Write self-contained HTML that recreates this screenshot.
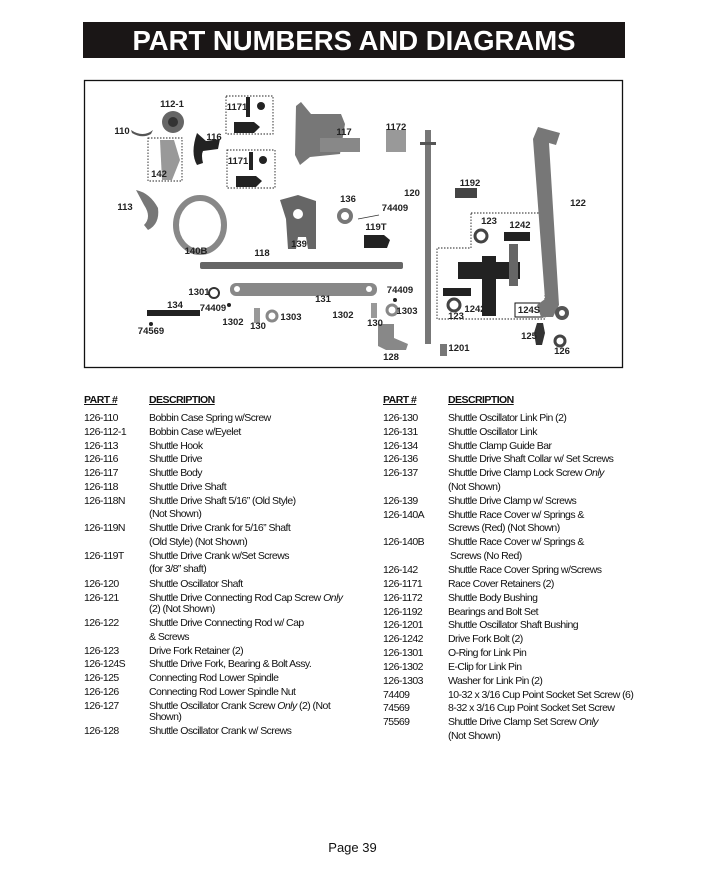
<!DOCTYPE html>
<html><head><meta charset="utf-8"><style>
body{margin:0;width:705px;height:887px;background:#fff;position:relative;overflow:hidden;font-family:"Liberation Sans",sans-serif}
.bar{position:absolute;left:83px;top:22px;width:542px;height:36px;background:#1a1616;color:#fff;font-weight:bold;font-size:27.5px;text-align:center;line-height:37px}
.t{position:absolute;font-size:10.5px;letter-spacing:-0.55px;color:#111;white-space:nowrap;line-height:12px;margin-top:-6px}
.h{font-weight:bold;text-decoration:underline}
.pg{position:absolute;left:0;width:705px;top:840px;text-align:center;font-size:13px;color:#111}
svg{position:absolute;left:0;top:0}
svg text{font-family:"Liberation Sans",sans-serif;font-weight:bold;font-size:9.5px;fill:#222}
</style></head><body>
<div class="bar">PART NUMBERS AND DIAGRAMS</div>
<svg width="705" height="887">
<rect x="84.5" y="80.5" width="538" height="287" fill="none" stroke="#111" stroke-width="1.3"/>
<g fill="none" stroke="#222" stroke-dasharray="1.5,1.5" stroke-width="0.9">
<rect x="148" y="138" width="34" height="43"/>
<rect x="226" y="96" width="47" height="38"/>
<rect x="227" y="150" width="48" height="38"/>
<path d="M471 213H545V319H437V248H471Z"/>
</g>
<rect x="515" y="303" width="28" height="14" fill="none" stroke="#111"/>
<g fill="#555">
<circle cx="173" cy="122" r="11" fill="#666"/><circle cx="173" cy="122" r="5" fill="#333"/>
<path d="M131 130q12 8 22 0l-2 4q-9 5-19-1z"/>
<path d="M160 140h14l6 20-8 20h-10z" fill="#999"/>
<path d="M197 133q-7 20 0 32l6-2q-2-8 0-12l15-2 2-10-14 2z" fill="#222"/>
<path d="M136 190q14 3 22 18 2 16-10 22l-4-5q8-8 0-20z" fill="#777"/>
<rect x="246" y="97" width="4" height="20" fill="#222"/><circle cx="261" cy="106" r="4" fill="#222"/>
<path d="M234 122h20l6 5-6 6h-20z" fill="#222"/>
<rect x="249" y="152" width="4" height="18" fill="#222"/><circle cx="263" cy="160" r="4" fill="#222"/>
<path d="M236 176h20l6 5-6 6h-20z" fill="#222"/>
<path d="M296 106l5-4 10 12 30 0 4 10-5 30-30 3-10 8-5-10z" fill="#777"/>
<rect x="320" y="138" width="40" height="14" fill="#888"/>
<rect x="386" y="130" width="20" height="22" fill="#999"/>
<rect x="425" y="130" width="6" height="214" fill="#777"/><rect x="420" y="142" width="16" height="3" fill="#555"/>
<rect x="455" y="188" width="22" height="10" fill="#444"/>
<path d="M538 127l22 6-4 12-7-2 10 162-6 12-12 0-4-12 8-6-12-160z" fill="#777"/>
<circle cx="562" cy="313" r="7" fill="#555"/><circle cx="562" cy="313" r="3" fill="#fff"/>
<ellipse cx="200" cy="225" rx="24" ry="27" fill="none" stroke="#888" stroke-width="6"/>
<path d="M280 200l18-5 18 6 0 48-8 0-2-12-8 0-2 12-8 0-2-30z" fill="#666"/><circle cx="298" cy="214" r="5" fill="#fff"/>
<circle cx="345" cy="216" r="6" fill="none" stroke="#777" stroke-width="4"/>
<path d="M364 235h20l6 5-3 8-23 0z" fill="#222"/>
<rect x="200" y="262" width="203" height="7" rx="2" fill="#666"/>
<rect x="230" y="283" width="147" height="13" rx="6" fill="#888"/>
<circle cx="237" cy="289" r="3" fill="#fff"/><circle cx="369" cy="289" r="3" fill="#fff"/>
<rect x="147" y="310" width="53" height="6" fill="#222"/>
<circle cx="214" cy="293" r="5" fill="none" stroke="#333" stroke-width="2"/>
<rect x="254" y="308" width="6" height="15" fill="#999"/><circle cx="272" cy="316" r="5" fill="none" stroke="#888" stroke-width="3"/>
<rect x="371" y="303" width="6" height="15" fill="#999"/><circle cx="392" cy="310" r="5" fill="none" stroke="#888" stroke-width="3"/>
<path d="M378 324h16v14l14 6-2 6-20 0-8-4z" fill="#888"/>
<rect x="440" y="344" width="7" height="12" fill="#777"/>
<circle cx="481" cy="236" r="6" fill="none" stroke="#444" stroke-width="3"/>
<rect x="504" y="232" width="26" height="9" fill="#222"/>
<rect x="458" y="262" width="62" height="17" fill="#222"/><rect x="482" y="256" width="14" height="60" fill="#222"/>
<rect x="509" y="244" width="9" height="42" fill="#666"/>
<rect x="443" y="288" width="28" height="8" fill="#222"/>
<circle cx="454" cy="305" r="6" fill="none" stroke="#444" stroke-width="3"/>
<path d="M537 323h6l2 10-3 12h-6l-2-12z" fill="#333"/>
<circle cx="560" cy="341" r="5" fill="none" stroke="#444" stroke-width="3"/>
<circle cx="151" cy="324" r="2" fill="#222"/><circle cx="229" cy="305" r="2" fill="#222"/><circle cx="395" cy="300" r="2" fill="#222"/>
</g>
<line x1="379" y1="215" x2="358" y2="219" stroke="#333" stroke-width="0.7"/>
<text x="172" y="107" text-anchor="middle">112-1</text>
<text x="122" y="134" text-anchor="middle">110</text>
<text x="214" y="140" text-anchor="middle">116</text>
<text x="237" y="110" text-anchor="middle">1171</text>
<text x="238" y="164" text-anchor="middle">1171</text>
<text x="344" y="135" text-anchor="middle">117</text>
<text x="396" y="130" text-anchor="middle">1172</text>
<text x="159" y="177" text-anchor="middle">142</text>
<text x="125" y="210" text-anchor="middle">113</text>
<text x="348" y="202" text-anchor="middle">136</text>
<text x="395" y="211" text-anchor="middle">74409</text>
<text x="376" y="230" text-anchor="middle">119T</text>
<text x="412" y="196" text-anchor="middle">120</text>
<text x="470" y="186" text-anchor="middle">1192</text>
<text x="578" y="206" text-anchor="middle">122</text>
<text x="489" y="224" text-anchor="middle">123</text>
<text x="520" y="228" text-anchor="middle">1242</text>
<text x="196" y="254" text-anchor="middle">140B</text>
<text x="299" y="247" text-anchor="middle">139</text>
<text x="262" y="256" text-anchor="middle">118</text>
<text x="199" y="295" text-anchor="middle">1301</text>
<text x="323" y="302" text-anchor="middle">131</text>
<text x="400" y="293" text-anchor="middle">74409</text>
<text x="175" y="308" text-anchor="middle">134</text>
<text x="213" y="311" text-anchor="middle">74409</text>
<text x="233" y="325" text-anchor="middle">1302</text>
<text x="258" y="329" text-anchor="middle">130</text>
<text x="291" y="320" text-anchor="middle">1303</text>
<text x="343" y="318" text-anchor="middle">1302</text>
<text x="375" y="326" text-anchor="middle">130</text>
<text x="407" y="314" text-anchor="middle">1303</text>
<text x="475" y="312" text-anchor="middle">1242</text>
<text x="456" y="319" text-anchor="middle">123</text>
<text x="529" y="313" text-anchor="middle">124S</text>
<text x="529" y="339" text-anchor="middle">125</text>
<text x="562" y="354" text-anchor="middle">126</text>
<text x="459" y="351" text-anchor="middle">1201</text>
<text x="391" y="360" text-anchor="middle">128</text>
<text x="151" y="334" text-anchor="middle">74569</text>
</svg>

<div class="t h" style="left:84px;top:400px">PART #</div><div class="t h" style="left:149px;top:400px">DESCRIPTION</div>
<div class="t" style="left:84px;top:418px">126-110</div><div class="t" style="left:149px;top:418px">Bobbin Case Spring w/Screw</div>
<div class="t" style="left:84px;top:432px">126-112-1</div><div class="t" style="left:149px;top:432px">Bobbin Case w/Eyelet</div>
<div class="t" style="left:84px;top:446px">126-113</div><div class="t" style="left:149px;top:446px">Shuttle Hook</div>
<div class="t" style="left:84px;top:459px">126-116</div><div class="t" style="left:149px;top:459px">Shuttle Drive</div>
<div class="t" style="left:84px;top:473px">126-117</div><div class="t" style="left:149px;top:473px">Shuttle Body</div>
<div class="t" style="left:84px;top:487px">126-118</div><div class="t" style="left:149px;top:487px">Shuttle Drive Shaft</div>
<div class="t" style="left:84px;top:501px">126-118N</div><div class="t" style="left:149px;top:501px">Shuttle Drive Shaft 5/16” (Old Style)</div>
<div class="t" style="left:149px;top:514px">(Not Shown)</div>
<div class="t" style="left:84px;top:528px">126-119N</div><div class="t" style="left:149px;top:528px">Shuttle Drive Crank for 5/16” Shaft</div>
<div class="t" style="left:149px;top:542px">(Old Style) (Not Shown)</div>
<div class="t" style="left:84px;top:556px">126-119T</div><div class="t" style="left:149px;top:556px">Shuttle Drive Crank w/Set Screws</div>
<div class="t" style="left:149px;top:569px">(for 3/8” shaft)</div>
<div class="t" style="left:84px;top:584px">126-120</div><div class="t" style="left:149px;top:584px">Shuttle Oscillator Shaft</div>
<div class="t" style="left:84px;top:598px">126-121</div><div class="t" style="left:149px;top:598px">Shuttle Drive Connecting Rod Cap Screw <i>Only</i></div>
<div class="t" style="left:149px;top:609px">(2) (Not Shown)</div>
<div class="t" style="left:84px;top:623px">126-122</div><div class="t" style="left:149px;top:623px">Shuttle Drive Connecting Rod w/ Cap</div>
<div class="t" style="left:149px;top:637px">&amp; Screws</div>
<div class="t" style="left:84px;top:651px">126-123</div><div class="t" style="left:149px;top:651px">Drive Fork Retainer (2)</div>
<div class="t" style="left:84px;top:664px">126-124S</div><div class="t" style="left:149px;top:664px">Shuttle Drive Fork, Bearing &amp; Bolt Assy.</div>
<div class="t" style="left:84px;top:678px">126-125</div><div class="t" style="left:149px;top:678px">Connecting Rod Lower Spindle</div>
<div class="t" style="left:84px;top:692px">126-126</div><div class="t" style="left:149px;top:692px">Connecting Rod Lower Spindle Nut</div>
<div class="t" style="left:84px;top:706px">126-127</div><div class="t" style="left:149px;top:706px">Shuttle Oscillator Crank Screw <i>Only</i> (2) (Not</div>
<div class="t" style="left:149px;top:717px">Shown)</div>
<div class="t" style="left:84px;top:731px">126-128</div><div class="t" style="left:149px;top:731px">Shuttle Oscillator Crank w/ Screws</div>

<div class="t h" style="left:383px;top:400px">PART #</div><div class="t h" style="left:448px;top:400px">DESCRIPTION</div>
<div class="t" style="left:383px;top:418px">126-130</div><div class="t" style="left:448px;top:418px">Shuttle Oscillator Link Pin (2)</div>
<div class="t" style="left:383px;top:432px">126-131</div><div class="t" style="left:448px;top:432px">Shuttle Oscillator Link</div>
<div class="t" style="left:383px;top:446px">126-134</div><div class="t" style="left:448px;top:446px">Shuttle Clamp Guide Bar</div>
<div class="t" style="left:383px;top:459px">126-136</div><div class="t" style="left:448px;top:459px">Shuttle Drive Shaft Collar w/ Set Screws</div>
<div class="t" style="left:383px;top:473px">126-137</div><div class="t" style="left:448px;top:473px">Shuttle Drive Clamp Lock Screw <i>Only</i></div>
<div class="t" style="left:448px;top:487px">(Not Shown)</div>
<div class="t" style="left:383px;top:501px">126-139</div><div class="t" style="left:448px;top:501px">Shuttle Drive Clamp w/ Screws</div>
<div class="t" style="left:383px;top:515px">126-140A</div><div class="t" style="left:448px;top:515px">Shuttle Race Cover w/ Springs &amp;</div>
<div class="t" style="left:448px;top:528px">Screws (Red) (Not Shown)</div>
<div class="t" style="left:383px;top:542px">126-140B</div><div class="t" style="left:448px;top:542px">Shuttle Race Cover w/ Springs &amp;</div>
<div class="t" style="left:450px;top:556px">Screws (No Red)</div>
<div class="t" style="left:383px;top:570px">126-142</div><div class="t" style="left:448px;top:570px">Shuttle Race Cover Spring w/Screws</div>
<div class="t" style="left:383px;top:584px">126-1171</div><div class="t" style="left:448px;top:584px">Race Cover Retainers (2)</div>
<div class="t" style="left:383px;top:598px">126-1172</div><div class="t" style="left:448px;top:598px">Shuttle Body Bushing</div>
<div class="t" style="left:383px;top:612px">126-1192</div><div class="t" style="left:448px;top:612px">Bearings and Bolt Set</div>
<div class="t" style="left:383px;top:625px">126-1201</div><div class="t" style="left:448px;top:625px">Shuttle Oscillator Shaft Bushing</div>
<div class="t" style="left:383px;top:639px">126-1242</div><div class="t" style="left:448px;top:639px">Drive Fork Bolt (2)</div>
<div class="t" style="left:383px;top:653px">126-1301</div><div class="t" style="left:448px;top:653px">O-Ring for Link Pin</div>
<div class="t" style="left:383px;top:667px">126-1302</div><div class="t" style="left:448px;top:667px">E-Clip for Link Pin</div>
<div class="t" style="left:383px;top:681px">126-1303</div><div class="t" style="left:448px;top:681px">Washer for Link Pin (2)</div>
<div class="t" style="left:383px;top:695px">74409</div><div class="t" style="left:448px;top:695px">10-32 x 3/16 Cup Point Socket Set Screw (6)</div>
<div class="t" style="left:383px;top:708px">74569</div><div class="t" style="left:448px;top:708px">8-32 x 3/16 Cup Point Socket Set Screw</div>
<div class="t" style="left:383px;top:722px">75569</div><div class="t" style="left:448px;top:722px">Shuttle Drive Clamp Set Screw <i>Only</i></div>
<div class="t" style="left:448px;top:736px">(Not Shown)</div>

<div class="pg">Page 39</div>
</body></html>
